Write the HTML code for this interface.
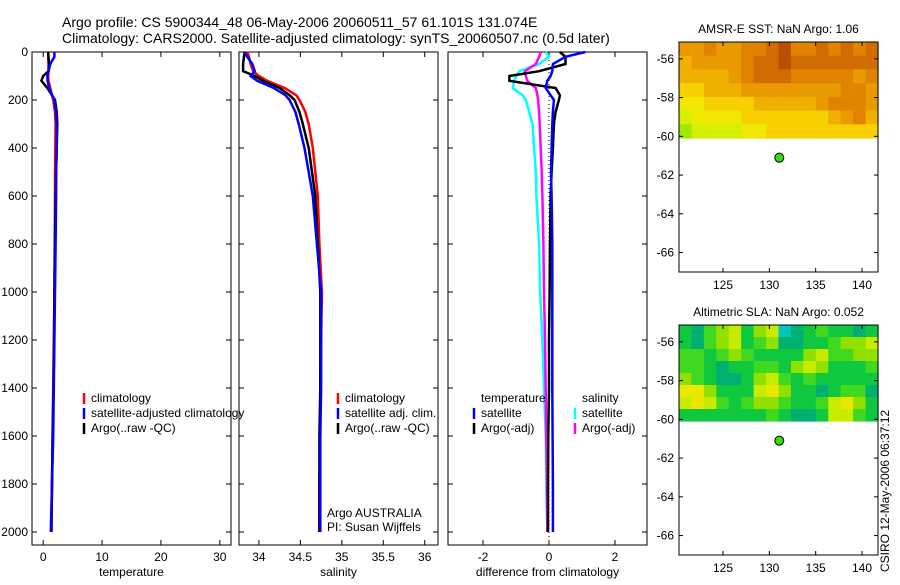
<!DOCTYPE html>
<html><head><meta charset="utf-8"><style>
body{margin:0;background:#fff;}
svg text{font-family:"Liberation Sans",sans-serif;}
</style></head><body>
<svg id="c" width="900" height="580" xmlns="http://www.w3.org/2000/svg">
<text x="62" y="27" font-size="14">Argo profile: CS 5900344_48 06-May-2006 20060511_57 61.101S 131.074E</text>
<text x="62" y="43" font-size="14">Climatology: CARS2000. Satellite-adjusted climatology: synTS_20060507.nc (0.5d later)</text>
<g id="g"></g>
<text transform="translate(889,572) rotate(-90)" font-size="12">CSIRO 12-May-2006 06:37:12</text>
</svg>
<script>
const depths=[0,20,50,80,100,120,150,180,200,250,300,400,500,600,800,1000,1200,1400,1600,1800,2000];
const tempClim=[0.85,0.85,0.9,0.9,0.85,0.9,1.2,1.5,1.7,2.0,2.1,2.05,2.0,2.0,1.95,1.9,1.8,1.7,1.6,1.5,1.4];
const tempSat=[1.9,1.9,1.2,0.9,0.7,0.75,1.0,1.5,1.9,2.2,2.3,2.3,2.2,2.2,2.1,2.0,1.9,1.8,1.7,1.5,1.3];
const tempArgo=[0.85,0.9,1.0,0.9,0.0,-0.3,0.7,1.5,2.0,2.3,2.4,2.3,2.2,2.1,2.0,1.9,1.85,1.75,1.6,1.5,1.4];
const salClim=[33.86,33.88,33.9,33.93,34.0,34.1,34.31,34.45,34.49,34.56,34.6,34.65,34.68,34.71,34.73,34.76,34.75,34.74,34.74,34.73,34.73];
const salSat=[33.83,33.86,33.92,33.95,33.9,33.98,34.18,34.32,34.37,34.44,34.48,34.55,34.6,34.65,34.7,34.75,34.75,34.75,34.74,34.74,34.74];
const salArgo=[33.83,33.82,33.81,33.81,33.95,34.05,34.25,34.37,34.43,34.49,34.53,34.6,34.64,34.68,34.71,34.74,34.74,34.74,34.73,34.73,34.73];
const dTempSat=[1.1,0.5,0.12,0.1,0.05,-0.05,-0.1,0.05,0.15,0.12,0.1,0.08,0.06,0.08,0.1,0.1,0.1,0.1,0.11,0.12,0.12];
const dTempArgo=[0.33,0.5,0.5,-0.3,-1.2,-1.2,0.2,0.33,0.3,0.2,0.15,0.12,0.08,0.05,0.03,0.02,0.0,0.0,-0.02,-0.03,-0.03];
const dSalSat=[-0.1,0.0,-0.3,-0.9,-1.0,-1.05,-1.1,-0.8,-0.7,-0.6,-0.5,-0.45,-0.4,-0.38,-0.3,-0.27,-0.2,-0.15,-0.1,-0.08,-0.05];
const dSalArgo=[-0.25,-0.3,-0.4,-0.73,-0.7,-0.66,-0.4,-0.35,-0.33,-0.3,-0.28,-0.25,-0.22,-0.2,-0.17,-0.15,-0.12,-0.1,-0.08,-0.06,-0.05];
const sstGrid=[
[6,6,7,6,6,7,7,8,9,7,7,8,7,8,7,8],
[5,6,6,6,6,7,8,8,9,8,8,8,8,8,8,8],
[5,5,5,5,6,7,8,8,8,7,7,7,7,7,6,7],
[4,4,5,5,5,6,6,6,6,6,6,6,6,7,7,6],
[3,3,4,4,4,4,5,5,5,5,5,6,7,7,7,6],
[2,3,3,3,3,4,4,4,4,4,4,4,5,6,7,5],
[1,2,2,2,2,3,3,4,4,4,4,4,4,4,4,4]];
const slaGrid=[
[2,1,3,4,5,2,4,5,0,1,2,3,2,2,1,2],
[2,1,3,4,5,2,3,4,1,1,2,2,3,4,4,5],
[3,3,2,3,4,3,2,2,2,2,4,5,3,3,4,4],
[3,3,2,1,2,2,3,3,2,4,5,4,2,2,2,3],
[4,3,2,1,1,2,4,5,3,2,3,2,2,2,2,2],
[6,6,4,2,2,2,5,6,4,2,2,1,2,3,3,1],
[5,6,5,3,2,3,4,4,3,2,2,3,5,6,4,2],
[2,2,2,2,2,2,2,3,2,1,1,2,5,5,3,2]];
const sstColors=["#4fd400","#9cea00","#d4f000","#f0e800","#f8d000","#f0b000","#e89a00","#e08400","#d06c00","#b85000"];
const slaColors=["#00c8c0","#00b070","#10c840","#40d820","#90e000","#c8ec00","#e8e800"];

const NS="http://www.w3.org/2000/svg";
const G=document.getElementById('g');
function mk(tag,at,parent){const e=document.createElementNS(NS,tag);for(const k in at)e.setAttribute(k,at[k]);(parent||G).appendChild(e);return e;}
function txt(x,y,s,size,anchor){const t=mk('text',{x:x,y:y,'font-size':size||12,'text-anchor':anchor||'start'});t.textContent=s;return t;}
const yD=d=>52+d*0.24;

function panel(x0,x1,dom,ticks,xlabel,name){
  const sx=v=>x0+(v-dom[0])/(dom[1]-dom[0])*(x1-x0);
  const fr=mk('rect',{x:x0,y:52,width:x1-x0,height:493,fill:'none',stroke:'#000','stroke-width':1});
  
  
  ticks.forEach(t=>{const X=sx(t);mk('line',{x1:X,x2:X,y1:52,y2:57,stroke:'#000'});mk('line',{x1:X,x2:X,y1:545,y2:540,stroke:'#000'});
    const l=txt(X,561,String(t),12,'middle');});
  [0,200,400,600,800,1000,1200,1400,1600,1800,2000].forEach(d=>{mk('line',{x1:x0,x2:x0+5,y1:yD(d),y2:yD(d),stroke:'#000'});mk('line',{x1:x1,x2:x1-5,y1:yD(d),y2:yD(d),stroke:'#000'});});
  const xl=txt((x0+x1)/2,576,xlabel,12,'middle');
  
  
  return sx;
}
function line(sx,vals,color,name,w){
  const p=mk('polyline',{points:vals.map((v,i)=>sx(v).toFixed(1)+','+yD(depths[i]).toFixed(1)).join(' '),fill:'none',stroke:color,'stroke-width':w||2.5});
  
  
}
// y labels on panel1
[0,200,400,600,800,1000,1200,1400,1600,1800,2000].forEach(d=>{const t=txt(28,yD(d)+4,String(d),12,'end');});

const s1=panel(32,231,[-1.9,31.9],[0,10,20,30],'temperature','temperature-panel');
line(s1,tempClim,'#f00','temp-climatology-line');
line(s1,tempArgo,'#000','temp-argo-line');
line(s1,tempSat,'#00f','temp-satellite-line');
const s2=panel(239,438,[33.76,36.16],[34,34.5,35,35.5,36],'salinity','salinity-panel');
line(s2,salClim,'#f00','sal-climatology-line');
line(s2,salArgo,'#000','sal-argo-line');
line(s2,salSat,'#00f','sal-satellite-line');
const s3=panel(448,647,[-3.06,2.97],[-2,0,2],'difference from climatology','difference-panel');
mk('line',{x1:s3(0),x2:s3(0),y1:52,y2:545,stroke:'#000','stroke-dasharray':'1,3'});
line(s3,dSalSat,'#0ff','diff-sal-satellite-line');
line(s3,dSalArgo,'#f0f','diff-sal-argo-line');
line(s3,dTempArgo,'#000','diff-temp-argo-line');
line(s3,dTempSat,'#00f','diff-temp-satellite-line');

function legend(x,y,items,name){items.forEach((it,i)=>{const yy=y+i*15;
  if(it[1])mk('line',{x1:x,x2:x,y1:yy-9,y2:yy+2,stroke:it[1],'stroke-width':2.5});
  const t=txt(x+7,yy,it[0],12);});}
legend(84,402,[['climatology','#f00'],['satellite-adjusted climatology','#00f'],['Argo(..raw -QC)','#000']],'temp-legend');
legend(338,402,[['climatology','#f00'],['satellite adj. clim.','#00f'],['Argo(..raw -QC)','#000']],'sal-legend');
legend(474,402,[['temperature',null],['satellite','#00f'],['Argo(-adj)','#000']],'diff-temp-legend');
legend(575,402,[['salinity',null],['satellite','#0ff'],['Argo(-adj)','#f0f']],'diff-sal-legend');
txt(327,517,'Argo AUSTRALIA',12);
txt(327,531,'PI: Susan Wijffels',12);
mk('rect',{x:232,y:540,width:6,height:5,fill:'#fff'});

function map(top,bottom,imgBottom,grid,colors,title,name){
  const x0=679,x1=878;
  const sx=v=>723+(v-125)*(139/15);
  const sy=v=>top+( -55.13 - v)*19.37;
  const t=txt((x0+x1)/2,top-9,title,12,'middle');
  const rows=grid.length,cols=grid[0].length,cw=(x1-x0)/cols,ch=(imgBottom-top)/rows;
  grid.forEach((r,i)=>r.forEach((v,j)=>{const c=mk('rect',{x:x0+j*cw,y:top+i*ch,width:cw+0.6,height:ch+0.6,fill:colors[v]});
    }));
  const f=mk('rect',{x:x0,y:top,width:x1-x0,height:bottom-top,fill:'none',stroke:'#000'});
  
  [-56,-58,-60,-62,-64,-66].forEach(v=>{const Y=sy(v);mk('line',{x1:x0,x2:x0+4,y1:Y,y2:Y,stroke:'#000'});mk('line',{x1:x1,x2:x1-4,y1:Y,y2:Y,stroke:'#000'});
    const l=txt(x0-5,Y+4,String(v),12,'end');});
  [125,130,135,140].forEach(v=>{const X=sx(v);mk('line',{x1:X,x2:X,y1:top,y2:top+4,stroke:'#000'});mk('line',{x1:X,x2:X,y1:bottom,y2:bottom-4,stroke:'#000'});
    const l=txt(X,bottom+17,String(v),12,'middle');});
  const d=mk('circle',{cx:sx(131.074),cy:sy(-61.101),r:4.5,fill:'#33e000',stroke:'#000'});
  
}
map(42,272,138,sstGrid,sstColors,'AMSR-E SST: NaN Argo: 1.06','sst-map');
map(325,555,421,slaGrid,slaColors,'Altimetric SLA: NaN Argo: 0.052','sla-map');
</script>
</body></html>
